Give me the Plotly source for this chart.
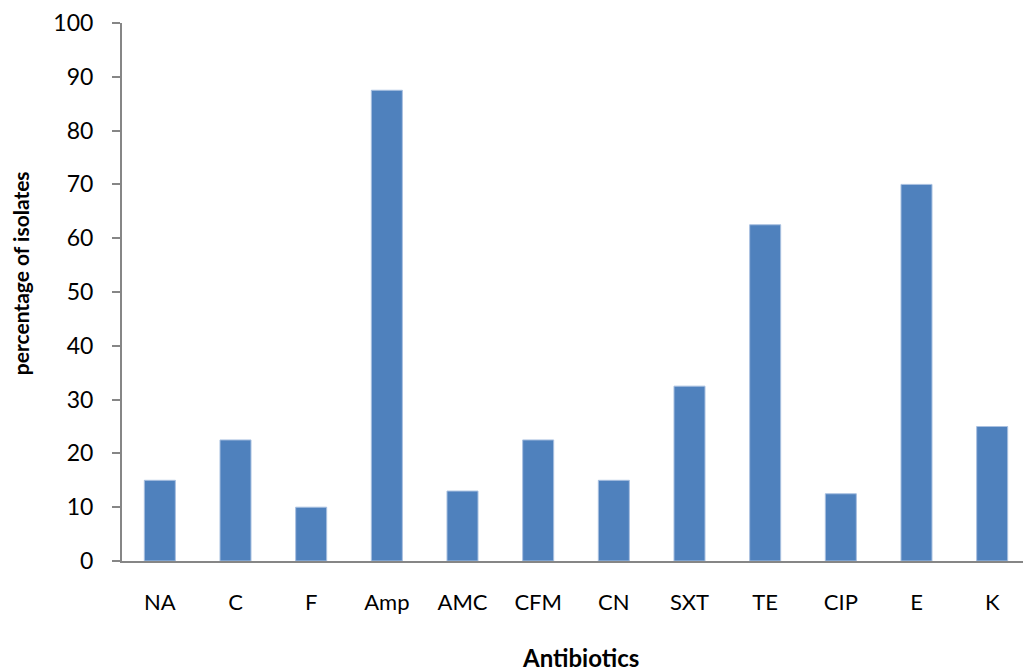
import plotly.graph_objects as go

antibiotics = ["NA", "C", "F", "Amp", "AMC", "CFM", "CN", "SXT", "TE", "CIP", "E", "K"]
percentages = [15, 22.5, 10, 87.5, 13, 22.5, 15, 32.5, 62.5, 12.5, 70, 25]
y_ticks = [0, 10, 20, 30, 40, 50, 60, 70, 80, 90, 100]

fig = go.Figure(go.Bar(
    x=antibiotics, y=percentages,
    marker=dict(color="#4F81BD", line=dict(color="#A9C0E0", width=1)),
))

font = "Lato, Open Sans, sans-serif"
# page body has an 8px margin, so the figure is drawn 8px smaller and offset
fig.update_layout(
    width=1023, height=663,
    margin=dict(l=114, r=1, t=15, b=110),
    plot_bgcolor="white", paper_bgcolor="white",
    bargap=0.59, showlegend=False,
    font=dict(family=font, color="black"),
    annotations=[
        dict(text="<b>Antibiotics</b>", xref="paper", yref="paper", x=0.5, y=0,
             xshift=4, yshift=-96, showarrow=False, font=dict(size=24), yanchor="middle"),
        dict(text="<b>percentage of isolates</b>", xref="paper", y=0.535, yref="paper", x=0,
             xshift=-102, textangle=-90, showarrow=False, font=dict(size=21), xanchor="center"),
    ],
)
fig.update_xaxes(
    showline=True, linecolor="#868686", linewidth=2, automargin=False,
    ticks="", tickfont=dict(size=22), ticklabelstandoff=21,
    showgrid=False,
)
fig.update_yaxes(
    range=[0, 100], tickvals=y_ticks, showline=True, linecolor="#868686", linewidth=2,
    automargin=False,
    ticks="outside", ticklen=8, tickcolor="#868686", tickwidth=2, ticklabelstandoff=14,
    tickfont=dict(size=23), showgrid=False, zeroline=False,
)
fig.write_html("out.html")
